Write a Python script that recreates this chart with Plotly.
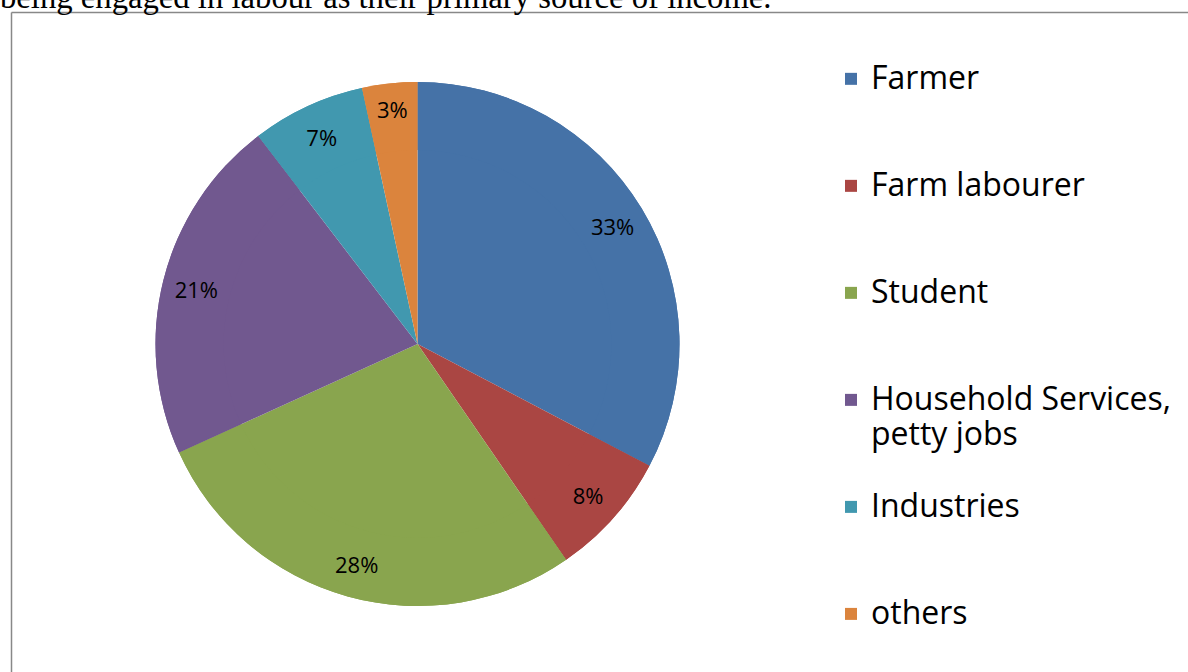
import plotly.graph_objects as go

categories = ["Farmer", "Farm labourer", "Student", "Household Services,<br>petty jobs", "Industries", "others"]
values = [32.7, 7.7, 27.8, 21.4, 7.0, 3.4]
colors = ["#4572A7", "#AA4643", "#89A54E", "#71588F", "#4198AF", "#DB843D"]
header_text = "being engaged in labour as their primary source of income."

W, H = 1188, 672
cx, cy, r = 417.5, 344, 262
domain = dict(x=[(cx - r) / W, (cx + r) / W], y=[(H - cy - r) / H, (H - cy + r) / H])

def legend_label(lbl, last=False):
    lines = lbl.split("<br>")
    if not last:
        while len(lines) < 3:
            lines.append(" ")
    return "<br>".join('<span style="font-size:32px">%s</span>' % l for l in lines)

labels = [legend_label(c, i == len(categories) - 1) for i, c in enumerate(categories)]

fig = go.Figure()
# full pie (slices)
fig.add_trace(go.Pie(
    labels=labels, values=values,
    marker=dict(colors=colors, line=dict(width=0)),
    sort=False, direction="clockwise", rotation=0,
    textinfo="none", domain=domain,
    hoverinfo="label+percent", showlegend=True,
))
# outer ring carrying the percentage labels near the rim
fig.add_trace(go.Pie(
    labels=labels, values=values,
    marker=dict(colors=colors, line=dict(width=0)),
    sort=False, direction="clockwise", rotation=0,
    hole=0.74,
    textposition="inside",
    texttemplate="%{percent:.0%}",
    insidetextfont=dict(family="Open Sans", size=22, color="black"),
    insidetextorientation="horizontal",
    domain=domain,
    hoverinfo="label+percent", showlegend=False,
))

fig.update_layout(
    width=W, height=H,
    margin=dict(l=0, r=0, t=0, b=0),
    paper_bgcolor="white",
    font=dict(family="Open Sans", color="black"),
    uniformtext=dict(minsize=22, mode="show"),
    showlegend=True,
    legend=dict(
        x=831 / W, xanchor="left",
        y=1 - 55 / H, yanchor="top",
        valign="top",
        font=dict(family="Open Sans", size=26.67, color="black"),
        bgcolor="rgba(0,0,0,0)",
        borderwidth=0,
    ),
    shapes=[
        dict(type="line", xref="paper", yref="paper", x0=11.5 / W, x1=1.0, y0=1 - 12.5 / H, y1=1 - 12.5 / H,
             line=dict(color="#888888", width=1.5)),
        dict(type="line", xref="paper", yref="paper", x0=11.5 / W, x1=11.5 / W, y0=0, y1=1 - 12.5 / H,
             line=dict(color="#888888", width=1.5)),
    ],
    annotations=[
        dict(text=header_text, xref="paper", yref="paper", x=-2 / W, y=1 + 23 / H,
             xanchor="left", yanchor="top", showarrow=False,
             font=dict(family="Liberation Serif", size=32.7, color="black")),
    ],
)

fig.write_html("out.html", config={"displayModeBar": False},
               post_script="document.body.style.margin='0';document.body.style.overflow='hidden';")
